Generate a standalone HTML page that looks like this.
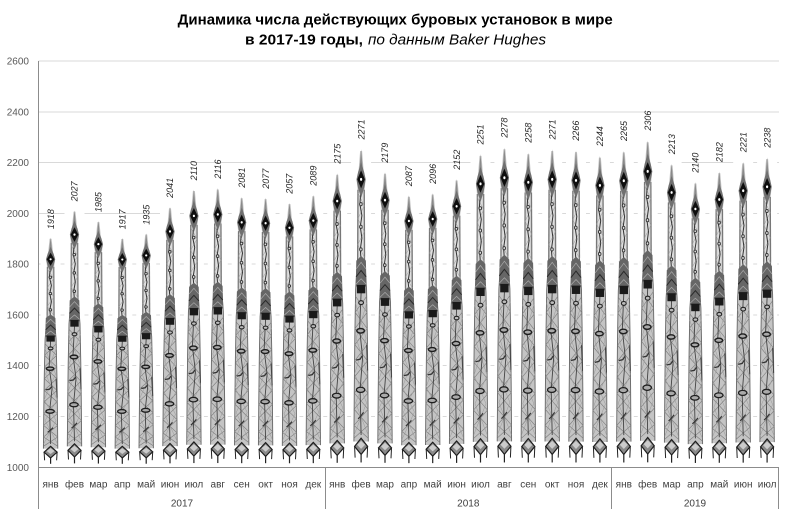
<!DOCTYPE html>
<html><head><meta charset="utf-8">
<style>
html,body{margin:0;padding:0;background:#fff;}
svg{display:block;}
.t{font-family:"Liberation Sans",sans-serif;}
</style></head>
<body>
<svg width="790" height="519" viewBox="0 0 790 519" xmlns="http://www.w3.org/2000/svg" xmlns:xlink="http://www.w3.org/1999/xlink">
<defs>
<g id="rig">
 <polygon points="-1,2 1,2 2.5,8 4.5,11 3.2,15 3.5,35 5.5,45 6.3,60 6.8,75 7.2,92 -7.2,92 -6.8,75 -6.3,60 -5.5,45 -3.5,35 -3.2,15 -4.5,11 -2.5,8" fill="#c4c4c4"/>
 <polygon points="-2,14 2,14 2.2,35 -2.2,35" fill="#dedede"/>
 <polyline points="-3.2,14 -3.5,35" fill="none" stroke="#777" stroke-width="1.2" vector-effect="non-scaling-stroke"/>
 <polyline points="3.2,14 3.5,35" fill="none" stroke="#777" stroke-width="1.2" vector-effect="non-scaling-stroke"/>
 <polyline points="-3.5,35 -5.5,45 -6.3,60 -6.8,75 -7.2,92" fill="none" stroke="#666" stroke-width="0.9" vector-effect="non-scaling-stroke"/>
 <polyline points="3.5,35 5.5,45 6.3,60 6.8,75 7.2,92" fill="none" stroke="#666" stroke-width="0.9" vector-effect="non-scaling-stroke"/>
 <polyline points="-5.7,47 6,52 -6.1,57 6.2,62 -6.4,67 6.6,72 -6.8,77 7,82 -7.1,87 7.2,91" fill="none" stroke="#7c7c7c" stroke-width="0.6" vector-effect="non-scaling-stroke"/>
 <polyline points="5.7,47 -6,52 6.1,57 -6.2,62 6.4,67 -6.6,72 6.8,77 -7,82 7.1,87 -7.2,91" fill="none" stroke="#7c7c7c" stroke-width="0.6" vector-effect="non-scaling-stroke"/>
 <polyline points="-5.8,49 5,60 -6.5,71 5.5,80 -7,90" fill="none" stroke="#999" stroke-width="0.5" vector-effect="non-scaling-stroke"/>
 <polyline points="5.8,49 -5,60 6.5,71 -5.5,80 7,90" fill="none" stroke="#999" stroke-width="0.5" vector-effect="non-scaling-stroke"/>
 <polyline points="-3.2,15 3.2,19 -3.3,23 3.3,27 -3.4,31 3.5,35" fill="none" stroke="#999" stroke-width="0.5" vector-effect="non-scaling-stroke"/>
 <polyline points="0,46 -1.5,57 1.5,66 -1,76 0,90" fill="none" stroke="#444" stroke-width="0.9" vector-effect="non-scaling-stroke"/>
 <polyline points="0,13 -1.2,18.5 0.8,22 -0.8,25.5 0.8,29 -0.8,32.5 0,36" fill="none" stroke="#333" stroke-width="1" vector-effect="non-scaling-stroke"/>
 <ellipse cx="-0.2" cy="18.5" rx="1.3" ry="0.5" fill="#ddd" stroke="#333" stroke-width="0.9" vector-effect="non-scaling-stroke"/>
 <ellipse cx="-0.2" cy="25.5" rx="1.3" ry="0.5" fill="#ddd" stroke="#333" stroke-width="0.9" vector-effect="non-scaling-stroke"/>
 <ellipse cx="-0.2" cy="32.5" rx="1.3" ry="0.5" fill="#ddd" stroke="#333" stroke-width="0.9" vector-effect="non-scaling-stroke"/>
 <polygon points="0,1.5 0.7,4 1.6,7.5 0,9 -1.6,7.5 -0.7,4" fill="#8a8a8a"/>
 <polygon points="0,5.5 3,8.5 4.6,10.8 3,13.5 0,16.5 -3,13.5 -4.6,10.8 -3,8.5" fill="#707070"/>
 <polygon points="0,8 3.8,10.8 0,13.6 -3.8,10.8" fill="#0e0e0e"/>
 <ellipse cx="0" cy="10.8" rx="1.1" ry="0.45" fill="#fff"/>
 <polygon points="-4.8,36 0,34.5 4.8,36 5.4,44 -5.4,44" fill="#666"/>
 <polyline points="-4.8,38.5 0,36.5 4.8,38.5" fill="none" stroke="#aaa" stroke-width="0.7" vector-effect="non-scaling-stroke"/>
 <polyline points="-5,41 0,39 5,41" fill="none" stroke="#2a2a2a" stroke-width="1" vector-effect="non-scaling-stroke"/>
 <polyline points="-5.2,43.3 0,41.6 5.2,43.3" fill="none" stroke="#aaa" stroke-width="0.7" vector-effect="non-scaling-stroke"/>
 <rect x="-4.2" y="43.5" width="8.4" height="2.6" fill="#1a1a1a"/>
 <ellipse cx="0" cy="49" rx="2.4" ry="0.6" fill="#bbb" stroke="#222" stroke-width="1.1" vector-effect="non-scaling-stroke"/>
 <ellipse cx="-0.5" cy="57.7" rx="3.8" ry="0.7" fill="#aaa" stroke="#1e1e1e" stroke-width="1.4" vector-effect="non-scaling-stroke"/>
 <polyline points="-5,66.8 -1,66.5 1,65.5" fill="none" stroke="#333" stroke-width="1.3" vector-effect="non-scaling-stroke"/>
 <polyline points="5.5,62 6.5,70" fill="none" stroke="#444" stroke-width="1" vector-effect="non-scaling-stroke"/>
 <ellipse cx="-0.5" cy="76" rx="4.2" ry="0.8" fill="#aaa" stroke="#1e1e1e" stroke-width="1.3" vector-effect="non-scaling-stroke"/>
 <polyline points="-3,85 0,84 2.5,83" fill="none" stroke="#333" stroke-width="1.2" vector-effect="non-scaling-stroke"/>
 <polygon points="-6.5,93.5 0,91 6.5,93.5 0,96" fill="#8a8a8a" stroke="#1e1e1e" stroke-width="1.2" vector-effect="non-scaling-stroke"/>
 <polygon points="-4,93 0,91.8 4,93 0,94.3" fill="#ccc"/>
 <polyline points="-6.5,93.5 -6,97" fill="none" stroke="#222" stroke-width="1" vector-effect="non-scaling-stroke"/>
 <polyline points="6.5,93.5 6,97" fill="none" stroke="#222" stroke-width="1" vector-effect="non-scaling-stroke"/>
 <polyline points="0,96 0,98.5" fill="none" stroke="#222" stroke-width="1.2" vector-effect="non-scaling-stroke"/>
</g>
</defs>

<!-- Title -->
<text class="t" x="177.7" y="24.5" font-size="15" font-weight="bold" fill="#000" textLength="435" lengthAdjust="spacingAndGlyphs">Динамика  числа действующих буровых установок  в мире</text>
<text class="t" x="245" y="44.5" font-size="15" font-weight="bold" fill="#000" textLength="118" lengthAdjust="spacingAndGlyphs">в 2017-19 годы,</text>
<text class="t" x="368" y="44.5" font-size="15" font-style="italic" fill="#000" textLength="178" lengthAdjust="spacingAndGlyphs">по данным Baker Hughes</text>

<!-- Grid -->
<g stroke="#d9d9d9" stroke-width="1" shape-rendering="crispEdges">
 <line x1="38.5" x2="779" y1="61" y2="61"/>
 <line x1="38.5" x2="779" y1="112" y2="112"/>
 <line x1="38.5" x2="779" y1="162.5" y2="162.5"/>
 <line x1="38.5" x2="779" y1="213.5" y2="213.5"/>
 <line x1="38.5" x2="779" y1="264" y2="264"/>
 <line x1="38.5" x2="779" y1="315" y2="315"/>
 <line x1="38.5" x2="779" y1="365.5" y2="365.5"/>
 <line x1="38.5" x2="779" y1="416.5" y2="416.5"/>
</g>

<!-- Y labels -->
<g class="t" font-size="10" fill="#595959" text-anchor="end">
 <text x="29" y="64.5">2600</text>
 <text x="29" y="115.3">2400</text>
 <text x="29" y="166">2200</text>
 <text x="29" y="216.8">2000</text>
 <text x="29" y="267.6">1800</text>
 <text x="29" y="318.4">1600</text>
 <text x="29" y="369.2">1400</text>
 <text x="29" y="420">1200</text>
 <text x="29" y="470.8">1000</text>
</g>

<!-- Bar backgrounds -->
<g fill="#fff">
 <rect x="40.6" y="234.1" width="20" height="233.2"/>
 <rect x="64.5" y="206.4" width="20" height="260.9"/>
 <rect x="88.4" y="217.1" width="20" height="250.2"/>
 <rect x="112.3" y="234.4" width="20" height="232.9"/>
 <rect x="136.2" y="229.8" width="20" height="237.5"/>
 <rect x="160" y="202.9" width="20" height="264.4"/>
 <rect x="183.9" y="185.4" width="20" height="281.9"/>
 <rect x="207.8" y="183.8" width="20" height="283.5"/>
 <rect x="231.7" y="192.7" width="20" height="274.6"/>
 <rect x="255.6" y="193.7" width="20" height="273.6"/>
 <rect x="279.5" y="198.8" width="20" height="268.5"/>
 <rect x="303.3" y="190.7" width="20" height="276.6"/>
 <rect x="327.2" y="168.8" width="20" height="298.5"/>
 <rect x="351.1" y="144.5" width="20" height="322.8"/>
 <rect x="375" y="167.8" width="20" height="299.5"/>
 <rect x="398.9" y="191.2" width="20" height="276.1"/>
 <rect x="422.7" y="188.9" width="20" height="278.4"/>
 <rect x="446.6" y="174.7" width="20" height="292.6"/>
 <rect x="470.5" y="149.5" width="20" height="317.8"/>
 <rect x="494.4" y="142.7" width="20" height="324.6"/>
 <rect x="518.3" y="147.8" width="20" height="319.5"/>
 <rect x="542.2" y="144.5" width="20" height="322.8"/>
 <rect x="566" y="145.7" width="20" height="321.6"/>
 <rect x="589.9" y="151.3" width="20" height="316"/>
 <rect x="613.8" y="146" width="20" height="321.3"/>
 <rect x="637.7" y="135.6" width="20" height="331.7"/>
 <rect x="661.6" y="159.2" width="20" height="308.1"/>
 <rect x="685.4" y="177.7" width="20" height="289.6"/>
 <rect x="709.3" y="167.1" width="20" height="300.2"/>
 <rect x="733.2" y="157.2" width="20" height="310.1"/>
 <rect x="757.1" y="152.8" width="20" height="314.5"/>
</g>

<!-- Rigs -->
<use xlink:href="#rig" href="#rig" transform="translate(50.6,234.1) scale(1,2.332)"/>
<use xlink:href="#rig" href="#rig" transform="translate(74.5,206.4) scale(1,2.609)"/>
<use xlink:href="#rig" href="#rig" transform="translate(98.4,217.1) scale(1,2.502)"/>
<use xlink:href="#rig" href="#rig" transform="translate(122.3,234.4) scale(1,2.329)"/>
<use xlink:href="#rig" href="#rig" transform="translate(146.2,229.8) scale(1,2.375)"/>
<use xlink:href="#rig" href="#rig" transform="translate(170,202.9) scale(1,2.644)"/>
<use xlink:href="#rig" href="#rig" transform="translate(193.9,185.4) scale(1,2.819)"/>
<use xlink:href="#rig" href="#rig" transform="translate(217.8,183.8) scale(1,2.835)"/>
<use xlink:href="#rig" href="#rig" transform="translate(241.7,192.7) scale(1,2.746)"/>
<use xlink:href="#rig" href="#rig" transform="translate(265.6,193.7) scale(1,2.736)"/>
<use xlink:href="#rig" href="#rig" transform="translate(289.5,198.8) scale(1,2.685)"/>
<use xlink:href="#rig" href="#rig" transform="translate(313.3,190.7) scale(1,2.766)"/>
<use xlink:href="#rig" href="#rig" transform="translate(337.2,168.8) scale(1,2.985)"/>
<use xlink:href="#rig" href="#rig" transform="translate(361.1,144.5) scale(1,3.228)"/>
<use xlink:href="#rig" href="#rig" transform="translate(385,167.8) scale(1,2.995)"/>
<use xlink:href="#rig" href="#rig" transform="translate(408.9,191.2) scale(1,2.761)"/>
<use xlink:href="#rig" href="#rig" transform="translate(432.7,188.9) scale(1,2.784)"/>
<use xlink:href="#rig" href="#rig" transform="translate(456.6,174.7) scale(1,2.926)"/>
<use xlink:href="#rig" href="#rig" transform="translate(480.5,149.5) scale(1,3.178)"/>
<use xlink:href="#rig" href="#rig" transform="translate(504.4,142.7) scale(1,3.246)"/>
<use xlink:href="#rig" href="#rig" transform="translate(528.3,147.8) scale(1,3.195)"/>
<use xlink:href="#rig" href="#rig" transform="translate(552.2,144.5) scale(1,3.228)"/>
<use xlink:href="#rig" href="#rig" transform="translate(576,145.7) scale(1,3.216)"/>
<use xlink:href="#rig" href="#rig" transform="translate(599.9,151.3) scale(1,3.16)"/>
<use xlink:href="#rig" href="#rig" transform="translate(623.8,146) scale(1,3.213)"/>
<use xlink:href="#rig" href="#rig" transform="translate(647.7,135.6) scale(1,3.317)"/>
<use xlink:href="#rig" href="#rig" transform="translate(671.6,159.2) scale(1,3.081)"/>
<use xlink:href="#rig" href="#rig" transform="translate(695.4,177.7) scale(1,2.896)"/>
<use xlink:href="#rig" href="#rig" transform="translate(719.3,167.1) scale(1,3.002)"/>
<use xlink:href="#rig" href="#rig" transform="translate(743.2,157.2) scale(1,3.101)"/>
<use xlink:href="#rig" href="#rig" transform="translate(767.1,152.8) scale(1,3.145)"/>

<!-- Value labels -->
<g class="t" font-size="9" font-style="italic" fill="#262626">
 <text transform="translate(53.8,229.1) rotate(-90)">1918</text>
 <text transform="translate(77.7,201.4) rotate(-90)">2027</text>
 <text transform="translate(101.6,212.1) rotate(-90)">1985</text>
 <text transform="translate(125.5,229.4) rotate(-90)">1917</text>
 <text transform="translate(149.4,224.8) rotate(-90)">1935</text>
 <text transform="translate(173.2,197.9) rotate(-90)">2041</text>
 <text transform="translate(197.1,180.4) rotate(-90)">2110</text>
 <text transform="translate(221,178.8) rotate(-90)">2116</text>
 <text transform="translate(244.9,187.7) rotate(-90)">2081</text>
 <text transform="translate(268.8,188.7) rotate(-90)">2077</text>
 <text transform="translate(292.7,193.8) rotate(-90)">2057</text>
 <text transform="translate(316.5,185.7) rotate(-90)">2089</text>
 <text transform="translate(340.4,163.8) rotate(-90)">2175</text>
 <text transform="translate(364.3,139.5) rotate(-90)">2271</text>
 <text transform="translate(388.2,162.8) rotate(-90)">2179</text>
 <text transform="translate(412.1,186.2) rotate(-90)">2087</text>
 <text transform="translate(435.9,183.9) rotate(-90)">2096</text>
 <text transform="translate(459.8,169.7) rotate(-90)">2152</text>
 <text transform="translate(483.7,144.5) rotate(-90)">2251</text>
 <text transform="translate(507.6,137.7) rotate(-90)">2278</text>
 <text transform="translate(531.5,142.8) rotate(-90)">2258</text>
 <text transform="translate(555.4,139.5) rotate(-90)">2271</text>
 <text transform="translate(579.2,140.7) rotate(-90)">2266</text>
 <text transform="translate(603.1,146.3) rotate(-90)">2244</text>
 <text transform="translate(627,141) rotate(-90)">2265</text>
 <text transform="translate(650.9,130.6) rotate(-90)">2306</text>
 <text transform="translate(674.8,154.2) rotate(-90)">2213</text>
 <text transform="translate(698.6,172.7) rotate(-90)">2140</text>
 <text transform="translate(722.5,162.1) rotate(-90)">2182</text>
 <text transform="translate(746.4,152.2) rotate(-90)">2221</text>
 <text transform="translate(770.3,147.8) rotate(-90)">2238</text>
</g>

<!-- Axes -->
<g stroke="#8c8c8c" stroke-width="1" shape-rendering="crispEdges">
 <line x1="38.5" y1="61" x2="38.5" y2="509"/>
 <line x1="38.5" y1="467.5" x2="779" y2="467.5"/>
 <line x1="325.5" y1="467.5" x2="325.5" y2="509"/>
 <line x1="611.5" y1="467.5" x2="611.5" y2="509"/>
 <line x1="778.5" y1="467.5" x2="778.5" y2="509"/>
</g>

<!-- Month labels -->
<g class="t" font-size="10" fill="#404040" text-anchor="middle">
 <text x="50.6" y="487.5">янв</text>
 <text x="74.5" y="487.5">фев</text>
 <text x="98.4" y="487.5">мар</text>
 <text x="122.3" y="487.5">апр</text>
 <text x="146.2" y="487.5">май</text>
 <text x="170" y="487.5">июн</text>
 <text x="193.9" y="487.5">июл</text>
 <text x="217.8" y="487.5">авг</text>
 <text x="241.7" y="487.5">сен</text>
 <text x="265.6" y="487.5">окт</text>
 <text x="289.5" y="487.5">ноя</text>
 <text x="313.3" y="487.5">дек</text>
 <text x="337.2" y="487.5">янв</text>
 <text x="361.1" y="487.5">фев</text>
 <text x="385" y="487.5">мар</text>
 <text x="408.9" y="487.5">апр</text>
 <text x="432.7" y="487.5">май</text>
 <text x="456.6" y="487.5">июн</text>
 <text x="480.5" y="487.5">июл</text>
 <text x="504.4" y="487.5">авг</text>
 <text x="528.3" y="487.5">сен</text>
 <text x="552.2" y="487.5">окт</text>
 <text x="576" y="487.5">ноя</text>
 <text x="599.9" y="487.5">дек</text>
 <text x="623.8" y="487.5">янв</text>
 <text x="647.7" y="487.5">фев</text>
 <text x="671.6" y="487.5">мар</text>
 <text x="695.4" y="487.5">апр</text>
 <text x="719.3" y="487.5">май</text>
 <text x="743.2" y="487.5">июн</text>
 <text x="767.1" y="487.5">июл</text>
 <text x="182" y="506.3">2017</text>
 <text x="468.3" y="506.3">2018</text>
 <text x="695" y="506.3">2019</text>
</g>
</svg>
</body></html>
